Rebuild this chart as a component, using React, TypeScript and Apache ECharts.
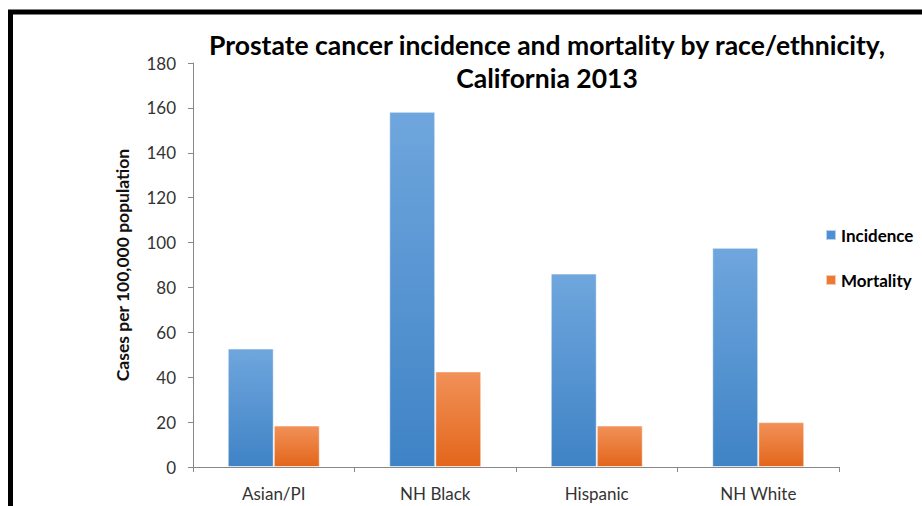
import React, { useEffect, useRef } from "react";
import * as echarts from "echarts";

const categories = ["Asian/PI", "NH Black", "Hispanic", "NH White"];
const incidence = [52.8, 158.3, 86.2, 97.7];
const mortality = [18.5, 42.6, 18.5, 20.0];
const seriesNames = ["Incidence", "Mortality"];
const titleLines = ["Prostate cancer incidence and mortality by race/ethnicity,", "California 2013"];
const yAxisName = "Cases per 100,000 population";

const FONT = "Lato, 'Open Sans', sans-serif";

export default function App() {
  const ref = useRef<HTMLDivElement>(null);
  useEffect(() => {
    document.body.style.margin = "0";
    const chart = echarts.init(ref.current!, null, { renderer: "svg" });
    const blueGrad = new echarts.graphic.LinearGradient(0, 0, 0, 1, [
      { offset: 0, color: "#6fa6dd" },
      { offset: 1, color: "#3f83c6" },
    ]);
    const orangeGrad = new echarts.graphic.LinearGradient(0, 0, 0, 1, [
      { offset: 0, color: "#f19158" },
      { offset: 1, color: "#e3661b" },
    ]);
    chart.setOption({
      animation: false,
      backgroundColor: "#ffffff",
      textStyle: { fontFamily: FONT },
      grid: { left: 193, right: 83, top: 63, bottom: 39 },
      graphic: [
        {
          type: "rect",
          shape: { x: 10.5, y: 12, width: 1000, height: 600 },
          style: { fill: "none", stroke: "#000", lineWidth: 5 },
          silent: true,
        },
        {
          type: "text",
          x: 547,
          y: 45,
          style: {
            text: titleLines[0],
            font: "bold 26.5px " + FONT,
            fill: "#000",
            align: "center",
            verticalAlign: "middle",
          },
        },
        {
          type: "text",
          x: 547,
          y: 78,
          style: {
            text: titleLines[1],
            font: "bold 26.5px " + FONT,
            fill: "#000",
            align: "center",
            verticalAlign: "middle",
          },
        },
      ],
      legend: {
        orient: "vertical",
        left: 825,
        top: 226,
        padding: 0,
        itemWidth: 10,
        itemHeight: 10,
        itemGap: 27,
        icon: "rect",
        data: [
          { name: seriesNames[0], itemStyle: { color: "#4f8fd3" } },
          { name: seriesNames[1], itemStyle: { color: "#ec7a33" } },
        ],
        textStyle: { fontSize: 17, fontWeight: "bold", color: "#000", fontFamily: FONT, lineHeight: 18, padding: [0, 0, 0, 0] },
      },
      xAxis: {
        type: "category",
        data: categories,
        boundaryGap: true,
        axisLine: { lineStyle: { color: "#888", width: 1 } },
        axisTick: { show: true, length: 5, alignWithLabel: false, lineStyle: { color: "#888" } },
        axisLabel: { fontSize: 17, color: "#333", margin: 18, fontFamily: FONT },
      },
      yAxis: {
        type: "value",
        min: 0,
        max: 180,
        interval: 20,
        name: yAxisName,
        nameLocation: "middle",
        nameGap: 62,
        nameTextStyle: { fontSize: 17.5, fontWeight: "bold", color: "#111", fontFamily: FONT },
        axisLine: { show: true, lineStyle: { color: "#888", width: 1 } },
        axisTick: { show: true, length: 5, inside: false, lineStyle: { color: "#888" } },
        axisLabel: { fontSize: 17, color: "#333", margin: 17, fontFamily: FONT },
        splitLine: { show: false },
      },
      series: [
        {
          name: seriesNames[0],
          type: "bar",
          data: incidence,
          barGap: "0%",
          barCategoryGap: "43%",
          itemStyle: { color: blueGrad, borderColor: "rgba(255,255,255,0.6)", borderWidth: 1 },
        },
        {
          name: seriesNames[1],
          type: "bar",
          data: mortality,
          barGap: "0%",
          barCategoryGap: "43%",
          itemStyle: { color: orangeGrad, borderColor: "rgba(255,255,255,0.6)", borderWidth: 1 },
        },
      ],
    });
    return () => chart.dispose();
  }, []);
  return <div ref={ref} style={{ width: 922, height: 506 }} />;
}
